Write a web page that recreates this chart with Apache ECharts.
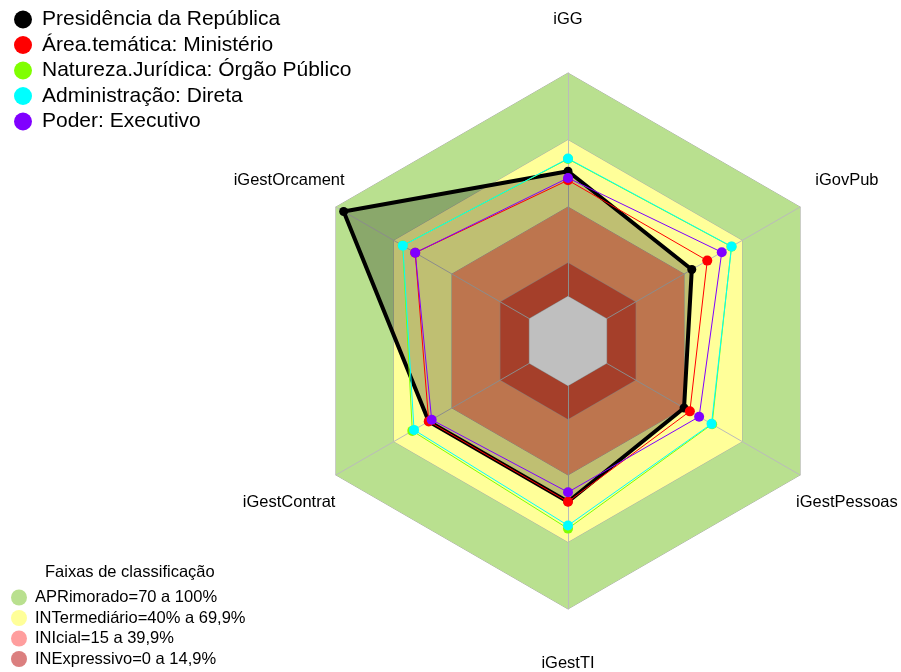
<!DOCTYPE html>
<html>
<head>
<meta charset="utf-8">
<script src="https://cdn.jsdelivr.net/npm/echarts@6/dist/echarts.min.js"></script>
<style>
html, body { margin: 0; padding: 0; background: #fff; }
#chart { width: 901px; height: 672px; }
</style>
</head>
<body>
<div id="chart"></div>
<script>
// eixos, na ordem anti-horaria a partir do topo
var indicadores = ['iGG', 'iGestOrcament', 'iGestContrat', 'iGestTI', 'iGestPessoas', 'iGovPub']

var nomesSeries = [
  'Presidência da República',
  'Área.temática: Ministério',
  'Natureza.Jurídica: Órgão Público',
  'Administração: Direta',
  'Poder: Executivo'
]
var presidencia = [56, 96, 52, 52, 40, 44]
var ministerio = [52, 59, 52, 52, 43, 52]
var orgaoPublico = [61.5, 65.5, 60.5, 64, 54.5, 64.5]
var direta = [61.7, 65.4, 59.6, 62.6, 54.2, 64.6]
var executivo = [53, 59, 50.5, 47.7, 47.8, 59.5]

// faixas de classificacao (limite superior de cada faixa)
var faixasNomes = [
  'APRimorado=70 a 100%',
  'INTermediário=40% a 69,9%',
  'INIcial=15 a 39,9%',
  'INExpressivo=0 a 14,9%'
]
var faixasLimites = [100, 70, 40, 15]

var coresSeries = ['#000000', '#ff0000', '#80ff00', '#00ffff', '#8000ff']
var coresFaixas = ['#b9e08f', '#ffff99', '#fd9d68', '#dd5539']
var coresLegendaFaixas = ['#b9e08f', '#ffff99', '#ff9e9e', '#db7f7f']

function repete(v) {
  return indicadores.map(function () { return v })
}

var series = []
faixasLimites.forEach(function (lim, i) {
  series.push({
    type: 'radar', name: faixasNomes[i], z: 1, symbol: 'none', silent: true,
    itemStyle: { color: coresLegendaFaixas[i] },
    lineStyle: { color: '#aaaaaa', width: 1 },
    areaStyle: { color: coresFaixas[i], opacity: 1 },
    data: [{ value: repete(lim) }]
  })
})
// centro (abaixo de zero)
series.push({
  type: 'radar', name: 'centro', z: 3, symbol: 'none', silent: true,
  lineStyle: { color: '#aaaaaa', width: 1 },
  areaStyle: { color: '#ffffff', opacity: 1 },
  data: [{ value: repete(0) }]
})

var valores = [presidencia, ministerio, orgaoPublico, direta, executivo]
valores.forEach(function (v, i) {
  var s = {
    type: 'radar', name: nomesSeries[i], z: 4 + i,
    symbol: 'circle', symbolSize: i === 0 ? 9 : 10,
    itemStyle: { color: coresSeries[i] },
    lineStyle: { color: coresSeries[i], width: i === 0 ? 4 : 1 },
    data: [{ value: v }]
  }
  if (i === 0) s.areaStyle = { color: '#000000', opacity: 0.25 }
  series.push(s)
})

var chart = echarts.init(document.getElementById('chart'))
chart.setOption({
  animation: false,
  textStyle: { fontFamily: 'Arial, Liberation Sans, sans-serif' },
  title: {
    text: 'Faixas de classificação',
    left: 40, top: 559,
    textStyle: { fontSize: 16.5, fontWeight: 'normal', color: '#000' }
  },
  legend: [{
    data: nomesSeries,
    orient: 'vertical', left: 9, top: 4,
    icon: 'circle', itemWidth: 18, itemHeight: 18, itemGap: 4.5,
    selectedMode: false,
    textStyle: { fontSize: 21, color: '#000', padding: [0, 0, 0, 5] }
  }, {
    data: faixasNomes.map(function (n, i) {
      return { name: n, itemStyle: { color: coresLegendaFaixas[i] } }
    }),
    orient: 'vertical', left: 6, top: 584, height: 100,
    icon: 'circle', itemWidth: 16, itemHeight: 16, itemGap: 3.5,
    selectedMode: false,
    textStyle: { fontSize: 16.5, color: '#000', padding: [0, 0, 0, 3] }
  }],
  radar: {
    center: [568, 341],
    radius: 268,
    shape: 'polygon',
    z: 2,
    nameGap: 54,
    indicator: indicadores.map(function (n) { return { name: n, min: -20, max: 100 } }),
    axisName: { color: '#000', fontSize: 16.5, align: 'center', verticalAlign: 'middle' },
    splitLine: { show: false },
    splitArea: { show: false },
    axisLine: { lineStyle: { color: '#bbbbbb', width: 1 } },
    axisTick: { show: false },
    axisLabel: { show: false }
  },
  series: series
})
</script>
</body>
</html>
